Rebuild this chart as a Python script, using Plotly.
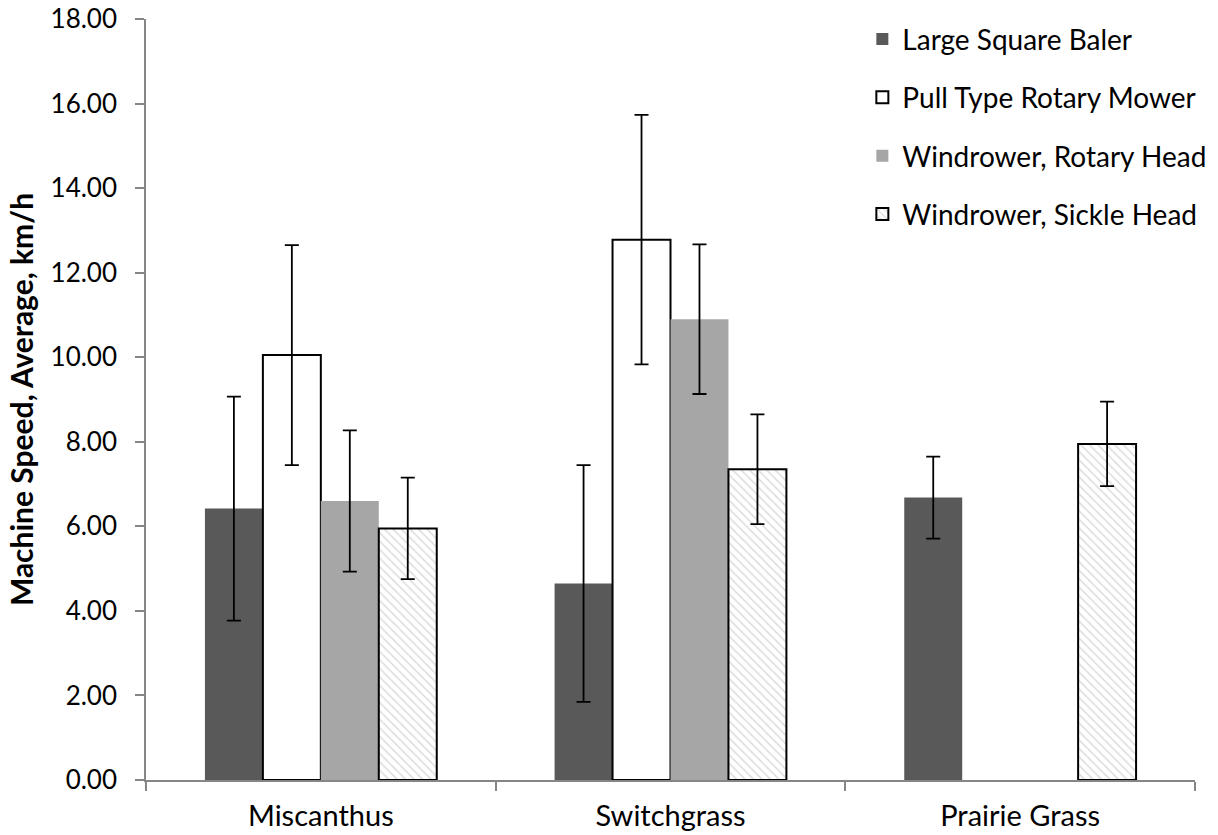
import plotly.graph_objects as go

categories = ["Miscanthus", "Switchgrass", "Prairie Grass"]
series_names = ["Large Square Baler", "Pull Type Rotary Mower",
                "Windrower, Rotary Head", "Windrower, Sickle Head"]
baler = [6.42, 4.65, 6.68]
baler_err = [2.65, 2.80, 0.97]
mower = [10.05, 12.78, None]
mower_err = [2.60, 2.95, None]
rotary = [6.60, 10.90, None]
rotary_err = [1.67, 1.77, None]
sickle = [5.95, 7.35, 7.95]
sickle_err = [1.20, 1.30, 1.00]

values = [baler, mower, rotary, sickle]
errors = [baler_err, mower_err, rotary_err, sickle_err]
styles = [
    dict(color="#595959", line=dict(color="#595959", width=0)),
    dict(color="#ffffff", line=dict(color="#000000", width=2)),
    dict(color="#a6a6a6", line=dict(color="#a6a6a6", width=0)),
    dict(color="#ffffff", line=dict(color="#000000", width=2),
         pattern=dict(shape="\\", fgcolor="#b8b8b8", bgcolor="#ffffff",
                      size=6, solidity=0.25)),
]

fig = go.Figure()
for i, (name, v, e, st) in enumerate(zip(series_names, values, errors, styles)):
    fig.add_trace(go.Bar(
        x=categories, y=v, name=name, marker=st,
        legendgroup=f"g{i}",
        error_y=dict(type="data", array=e, visible=True,
                     color="#000000", thickness=1.8, width=7),
    ))

font = "Lato, 'Open Sans', sans-serif"
fig.update_layout(
    width=1218, height=835,
    paper_bgcolor="white", plot_bgcolor="white",
    margin=dict(l=146, r=23, t=19, b=55, autoexpand=False),
    barmode="group", bargap=0.337, bargroupgap=0,
    font=dict(family=font, size=26, color="#000000"),
    showlegend=True,
    legend=dict(xref="container", yref="container",
                x=0.708, y=0.983, xanchor="left", yanchor="top",
                font=dict(size=28), tracegroupgap=19,
                bgcolor="rgba(0,0,0,0)", itemwidth=30),
    xaxis=dict(showline=True, linecolor="#868686", linewidth=1.5,
               ticks="outside", tickson="boundaries", ticklen=9,
               tickcolor="#868686", tickwidth=1.5,
               tickfont=dict(size=29), ticklabelstandoff=9, showgrid=False),
    yaxis=dict(range=[0, 18], dtick=2, tickformat=".2f",
               showline=True, linecolor="#868686", linewidth=1.5,
               ticks="outside", ticklen=9, tickcolor="#868686", tickwidth=1.5,
               showgrid=False, zeroline=False,
               tickfont=dict(size=26), ticklabelstandoff=13,
               title=dict(text="<b>Machine Speed, Average, km/h</b>",
                          font=dict(size=30), standoff=8)),
)

fig.write_html("out.html", config={"displayModeBar": False},
               post_script="document.body.style.margin='0px';")
